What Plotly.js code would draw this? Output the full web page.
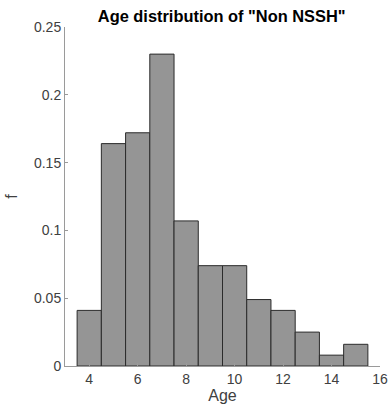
<!DOCTYPE html>
<html>
<head>
<meta charset="utf-8">
<script src="https://cdn.plot.ly/plotly-3.0.1.min.js"></script>
<style>html,body{margin:0;padding:0;background:#fff;}#chart{width:388px;height:415px;}</style>
</head>
<body>
<div id="chart"></div>
<script>
var ages = [4, 5, 6, 7, 8, 9, 10, 11, 12, 13, 14, 15];
var freq = [0.041, 0.164, 0.172, 0.230, 0.107, 0.074, 0.074, 0.049, 0.041, 0.025, 0.008, 0.016];
var xTicks = [4, 6, 8, 10, 12, 14, 16];
var yTicks = [0, 0.05, 0.1, 0.15, 0.2, 0.25];
var yTickText = ['0', '0.05', '0.1', '0.15', '0.2', '0.25'];

var trace = {
  type: 'bar',
  x: ages,
  y: freq,
  width: 1,
  marker: {color: '#959595', line: {color: '#2b2b2b', width: 1}},
  hoverinfo: 'x+y'
};
var font = {family: 'Liberation Sans, Arial, sans-serif', color: '#404040', size: 14};
var layout = {
  width: 388, height: 415,
  margin: {l: 65, r: 8, t: 27, b: 49},
  paper_bgcolor: '#fff', plot_bgcolor: '#fff',
  font: font,
  showlegend: false,
  bargap: 0,
  title: {text: '<b>Age distribution of "Non NSSH"</b>', x: 0.5714, xanchor: 'center', y: 0.962, yanchor: 'middle',
          font: {family: 'Liberation Sans, Arial, sans-serif', size: 16.4, color: '#000'}},
  xaxis: {
    range: [3, 16], tickvals: xTicks, ticktext: xTicks.map(String),
    showline: true, linecolor: '#9a9a9a', linewidth: 1,
    ticks: 'inside', ticklen: 3, tickcolor: '#9a9a9a',
    ticklabeloverflow: 'allow',
    showgrid: false, zeroline: false,
    title: {text: 'Age', font: {size: 16, color: '#404040'}, standoff: 4}
  },
  yaxis: {
    range: [0, 0.25], tickvals: yTicks, ticktext: yTickText,
    showline: true, linecolor: '#9a9a9a', linewidth: 1,
    ticks: 'inside', ticklen: 3, tickcolor: '#9a9a9a',
    ticklabeloverflow: 'allow',
    showgrid: false, zeroline: false,
    title: {text: 'f', font: {size: 16, color: '#404040'}, standoff: 12}
  }
};
Plotly.newPlot('chart', [trace], layout, {displayModeBar: false, staticPlot: true});
</script>
</body>
</html>
